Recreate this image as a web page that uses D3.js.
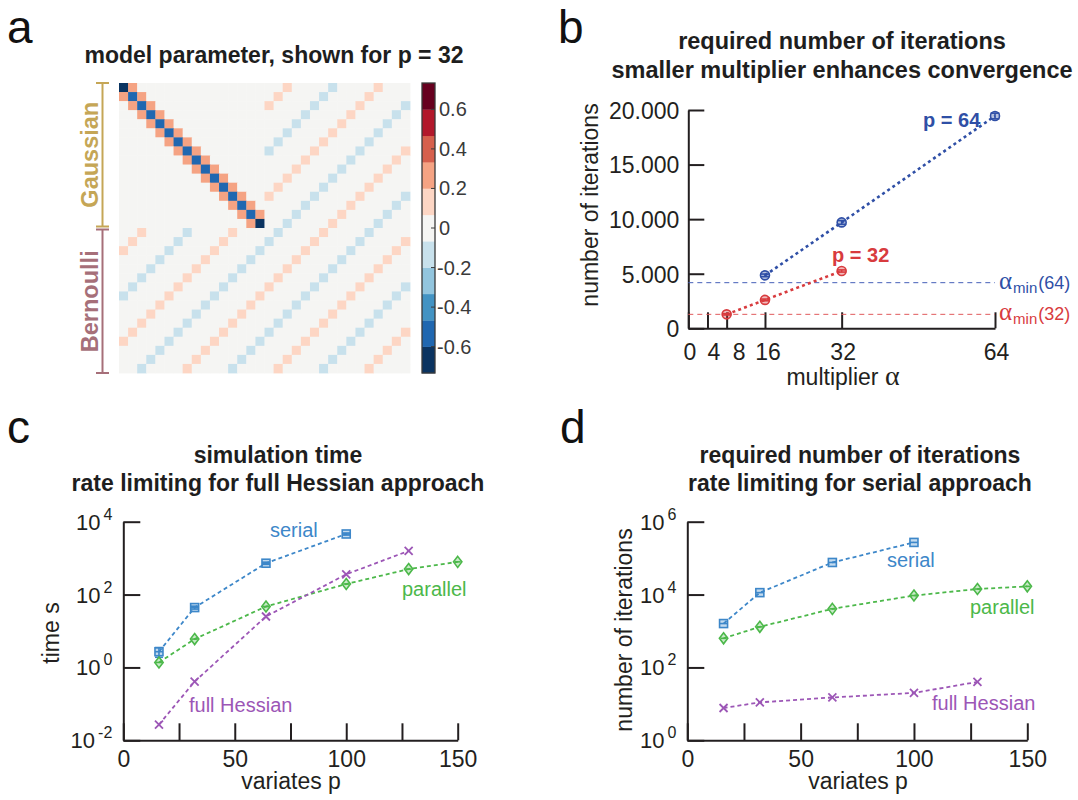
<!DOCTYPE html>
<html><head><meta charset="utf-8">
<script src="https://cdn.jsdelivr.net/npm/d3@7"></script>
<style>
body{margin:0;background:#fff;}
svg{display:block;font-family:"Liberation Sans",Arial,sans-serif;}
</style></head><body>
<svg id="chart" width="1078" height="800"></svg>
<script>
// ================= DATA =================
// panel a: model parameter matrix (p = 32), one string per row, one code per cell
const heatRows = [
  "No..............".concat("..p....b....p..."),
  "oBo.............".concat(".p....b....p...."),
  ".oBo............".concat("p....b....p....b"),
  "..oBo...........".concat("....b....p....b."),
  "...oBo..........".concat("...b....p....b.."),
  "....oBo.........".concat("..b....p....b..."),
  ".....oBo........".concat(".b....p....b...."),
  "......oBo.......".concat("b....p....b....p"),
  ".......oBo......".concat("....p....b....p."),
  "........oBo.....".concat("...p....b....p.."),
  ".........oBo....".concat("..p....b....p..."),
  "..........oBo...".concat(".p....b....p...."),
  "...........oBo..".concat("p....b....p....b"),
  "............oBo.".concat("....b....p....b."),
  ".............oBo".concat("...b....p....b.."),
  "..............oN".concat("..b....p....b..."),
  "..p....b....p...".concat(".b....p....b...."),
  ".p....b....p....".concat("b....p....b....p"),
  "p....b....p....b".concat("....p....b....p."),
  "....b....p....b.".concat("...p....b....p.."),
  "...b....p....b..".concat("..p....b....p..."),
  "..b....p....b...".concat(".p....b....p...."),
  ".b....p....b....".concat("p....b....p....b"),
  "b....p....b....p".concat("....b....p....b."),
  "....p....b....p.".concat("...b....p....b.."),
  "...p....b....p..".concat("..b....p....b..."),
  "..p....b....p...".concat(".b....p....b...."),
  ".p....b....p....".concat("b....p....b....p"),
  "p....b....p....b".concat("....p....b....p."),
  "....b....p....b.".concat("...p....b....p.."),
  "...b....p....b..".concat("..p....b....p..."),
  "..b....p....b...".concat(".p....b....p....")
];
const heatCodes = {"N": -0.7, "B": -0.55, "o": 0.3, "p": 0.1, "b": -0.1, ".": 0};
const colorbarTicks = [-0.6, -0.4, -0.2, 0, 0.2, 0.4, 0.6];
const colorbarLimit = 0.7333;
const blockNames = ["Gaussian", "Bernoulli"];
const blockSizes = [16, 16];

// panel b: iterations vs multiplier alpha
const alphaTicks = [0, 4, 8, 16, 32, 64];
const iterTicksB = [0, 5000, 10000, 15000, 20000];
const p64Alpha = [16, 32, 64];
const p64Iter  = [4850, 9700, 19450];
const p64Err   = [120, 170, 260];
const p32Alpha = [8, 16, 32];
const p32Iter  = [1280, 2600, 5250];
const p32Err   = [60, 80, 100];
const alphaMin64Iter = 4180;
const alphaMin32Iter = 1280;

// panels c, d: variates p
const pTicks = [0, 25, 50, 75, 100, 125, 150];
const pSerial   = [16, 32, 64, 100];
const pParallel = [16, 32, 64, 100, 128, 150];
const pHessian  = [16, 32, 64, 100, 128];
const timeSerial    = [2.7, 44, 725, 4600];
const timeSerialErr = [0.8, 4, 50, 300];
const timeParallel  = [1.37, 6.0, 47, 195, 500, 790];
const timeHessian   = [0.027, 0.41, 25, 360, 1580];
const iterSerial    = [1600, 11300, 76000, 270000];
const iterParallel  = [630, 1300, 4050, 9400, 14200, 16800];
const iterHessian   = [7.7, 11, 15, 20, 40];
const timeExpTicks = [-2, 0, 2, 4];
const iterExpTicks = [0, 2, 4, 6];

// ================= STYLE =================
const ink = "#231f20";
const rdbu11 = ["#0b3461","#2067b0","#4393c3","#92c5de","#c8e1ec","#f5f5f3",
                "#fdd6c4","#f5a383","#d6604d","#b2182b","#67001f"];
const cSerial = "#3d87c9", cParallel = "#4cb84a", cHessian = "#9c56b6";
const cP64 = "#2f4fa6", cP32 = "#d83b3e";
const cGauss = "#c5a656", cBern = "#a66f79";

const svg = d3.select("#chart");

// panel letters
[["a", 7, 43], ["b", 558, 43], ["c", 7, 443], ["d", 560, 443]].forEach(([t, x, y]) => {
  svg.append("text").attr("x", x).attr("y", y).text(t)
    .attr("font-family", '"Liberation Sans", Arial, sans-serif')
    .attr("font-size", 46).attr("fill", "#111");
});

function title(lines, cx, y0, dy, fs) {
  lines.forEach((t, i) => svg.append("text").attr("x", cx).attr("y", y0 + i * dy)
    .attr("text-anchor", "middle").attr("font-weight", "bold").attr("font-size", fs || 23)
    .attr("fill", "#1e1e1e").text(t));
}

// ================= PANEL A =================
title(["model parameter, shown for p = 32"], 274, 63, 0);
const nCell = heatRows.length;
const idx = d3.range(nCell);
const hx = d3.scaleBand().domain(idx).range([119, 410]);
const hy = d3.scaleBand().domain(idx).range([83, 373]);
const hColor = d3.scaleQuantize().domain([-colorbarLimit, colorbarLimit]).range(rdbu11);
const cells = [];
heatRows.forEach((row, r) => row.split("").forEach((ch, c) => cells.push({r, c, v: heatCodes[ch]})));
const gA = svg.append("g");
gA.selectAll("rect").data(cells).join("rect")
  .attr("x", d => hx(d.c)).attr("y", d => hy(d.r))
  .attr("width", hx.bandwidth() + 0.4).attr("height", hy.bandwidth() + 0.4)
  .attr("fill", d => hColor(d.v));

// colorbar
const cbY = d3.scaleLinear().domain([-colorbarLimit, colorbarLimit]).range([373, 83]);
const bandW = 2 * colorbarLimit / rdbu11.length;
const gCb = svg.append("g");
gCb.selectAll("rect.band").data(rdbu11).join("rect").attr("class", "band")
  .attr("x", 422).attr("width", 13)
  .attr("y", (d, i) => cbY(-colorbarLimit + (i + 1) * bandW))
  .attr("height", (d, i) => cbY(-colorbarLimit + i * bandW) - cbY(-colorbarLimit + (i + 1) * bandW) + 0.3)
  .attr("fill", d => d);
gCb.append("rect").attr("x", 422).attr("y", 83).attr("width", 13).attr("height", 290)
  .attr("fill", "none").attr("stroke", "#3a3a3a").attr("stroke-width", 1.3);
gCb.selectAll("line.tk").data(colorbarTicks).join("line").attr("class", "tk")
  .attr("x1", 431).attr("x2", 435).attr("y1", d => cbY(d)).attr("y2", d => cbY(d))
  .attr("stroke", "#3a3a3a").attr("stroke-width", 1);
gCb.selectAll("text").data(colorbarTicks).join("text")
  .attr("x", d => d < 0 ? 437 : 439).attr("y", d => cbY(d) + 7)
  .attr("font-size", 20).attr("fill", "#3a3a3a")
  .text(d => d === 0 ? "0" : d3.format(".1f")(d).replace("−", "-"));

// block brackets
let acc = 0;
blockNames.forEach((name, i) => {
  const col = i === 0 ? cGauss : cBern;
  const y0 = hy(acc), y1 = hy(acc + blockSizes[i] - 1) + hy.bandwidth();
  acc += blockSizes[i];
  const top = y0 + (i === 0 ? 0 : 1.5), bot = y1 - (i === 0 ? 1.5 : 0);
  const g = svg.append("g").attr("stroke", col).attr("stroke-width", 2);
  g.append("line").attr("x1", 102.5).attr("x2", 102.5).attr("y1", top).attr("y2", bot);
  g.append("line").attr("x1", 96).attr("x2", 109).attr("y1", top).attr("y2", top);
  g.append("line").attr("x1", 96).attr("x2", 109).attr("y1", bot).attr("y2", bot);
  svg.append("text").attr("transform", `translate(97.5,${(top + bot) / 2}) rotate(-90)`)
    .attr("text-anchor", "middle").attr("font-weight", "bold").attr("font-size", 23.5)
    .attr("fill", col).text(name);
});

// ================= PANEL B =================
title(["required number of iterations", "smaller multiplier enhances convergence"], 842, 49, 28.5, 23.5);
const bx = d3.scaleLinear().domain([0, 64]).range([688.3, 995]);
const by = d3.scaleLinear().domain([0, 20000]).range([328.3, 110]);

function styleAxis(g) {
  g.attr("font-family", null).attr("font-size", null);
  g.selectAll("path, line").attr("stroke", ink).attr("stroke-width", 2);
  g.selectAll("text").attr("fill", ink).attr("font-size", 23);
}
const gBy = svg.append("g").attr("transform", `translate(${bx(0)},0)`)
  .call(d3.axisLeft(by).tickValues(iterTicksB).tickSize(-16).tickSizeOuter(0).tickPadding(9)
    .tickFormat(d => d3.format(",")(d).replace(/,/g, ".")));
styleAxis(gBy);
gBy.selectAll("text").attr("dy", "0.36em");
const gBx = svg.append("g").attr("transform", `translate(0,${by(0)})`)
  .call(d3.axisBottom(bx).tickValues(alphaTicks).tickSize(-16).tickSizeOuter(0).tickPadding(15));
styleAxis(gBx);
gBx.selectAll(".tick text").attr("dx", d => d === 4 ? 6 : d === 8 ? 12 : d === 16 ? 2.5 : 1);

svg.append("text").attr("x", 843).attr("y", 385).attr("text-anchor", "middle").attr("font-size", 23).attr("fill", ink)
  .call(t => { t.append("tspan").text("multiplier "); t.append("tspan").attr("font-family", '"Liberation Serif", serif').attr("font-size", 28).text("α"); });
svg.append("text").attr("transform", "translate(598,205) rotate(-90)").attr("text-anchor", "middle")
  .attr("font-size", 23).attr("fill", ink).text("number of iterations");

// alpha_min reference lines
[[alphaMin64Iter, "#4560b8", "(64)", cP64], [alphaMin32Iter, "#e05a5c", "(32)", cP32]].forEach(([v, lc, lab, tc]) => {
  svg.append("line").attr("x1", bx(0)).attr("x2", bx(64)).attr("y1", by(v)).attr("y2", by(v))
    .attr("stroke", lc).attr("stroke-width", 1).attr("stroke-dasharray", "5,4");
  const t = svg.append("text").attr("x", 999).attr("y", by(v) + 6).attr("fill", tc);
  t.append("tspan").attr("font-family", '"Liberation Serif", serif').attr("font-size", 25).text("α");
  t.append("tspan").attr("font-size", 15).attr("dy", 4).attr("dx", 1).text("min");
  t.append("tspan").attr("font-size", 18).attr("dy", -4).attr("dx", 1).text(lab);
});

function seriesB(alphas, iters, errs, col, label, lx, ly) {
  const pts = alphas.map((a, i) => ({a, v: iters[i], e: errs[i]}));
  svg.append("path").datum(pts).attr("fill", "none").attr("stroke", col).attr("stroke-width", 2.6)
    .attr("stroke-dasharray", "3,3.2").attr("d", d3.line().x(d => bx(d.a)).y(d => by(d.v)));
  const g = svg.append("g").attr("stroke", col).attr("stroke-width", 1.6);
  pts.forEach(d => {
    const x = bx(d.a), y = by(d.v), yt = by(d.v + d.e), yb = by(d.v - d.e);
    g.append("circle").attr("cx", x).attr("cy", y).attr("r", 4.5).attr("fill", col).attr("fill-opacity", 0.35);
    g.append("line").attr("x1", x).attr("x2", x).attr("y1", yt).attr("y2", yb);
    g.append("line").attr("x1", x - 4.5).attr("x2", x + 4.5).attr("y1", yt).attr("y2", yt);
    g.append("line").attr("x1", x - 4.5).attr("x2", x + 4.5).attr("y1", yb).attr("y2", yb);
  });
  svg.append("text").attr("x", lx).attr("y", ly).attr("font-weight", "bold").attr("font-size", 20)
    .attr("fill", col).text(label);
}
seriesB(p32Alpha, p32Iter, p32Err, cP32, "p = 32", 832, 262);
seriesB(p64Alpha, p64Iter, p64Err, cP64, "p = 64", 923, 127);

// ================= PANELS C, D =================
function logPanel(cfg) {
  const x = d3.scaleLinear().domain([0, 150]).range([cfg.x0, cfg.x1]);
  const y = d3.scaleLog().domain([Math.pow(10, cfg.exps[0]), Math.pow(10, cfg.exps[cfg.exps.length - 1])]).range([740.3, 521.7]);
  const gy = svg.append("g").attr("transform", `translate(${cfg.x0},0)`)
    .call(d3.axisLeft(y).tickValues(cfg.exps.map(e => Math.pow(10, e))).tickSize(-17).tickSizeOuter(0).tickFormat(""));
  styleAxis(gy);
  cfg.exps.forEach(e => {
    const t = svg.append("text").attr("x", cfg.x0 - 11).attr("y", y(Math.pow(10, e)) + 8)
      .attr("text-anchor", "end").attr("fill", ink).attr("font-size", 22);
    t.append("tspan").text("10");
    t.append("tspan").attr("dx", 3).attr("dy", -10).attr("font-size", 16).text(e < 0 ? "-" + (-e) : e);
  });
  const gx = svg.append("g").attr("transform", "translate(0,740.3)")
    .call(d3.axisBottom(x).tickValues(pTicks).tickSize(-17).tickSizeOuter(0).tickPadding(10)
      .tickFormat(d => d % 50 === 0 ? d : ""));
  styleAxis(gx);
  svg.append("text").attr("x", cfg.xlabX).attr("y", 789).attr("text-anchor", "middle")
    .attr("font-size", 23).attr("fill", ink).text("variates p");
  svg.append("text").attr("transform", `translate(${cfg.ylabX},${cfg.ylabY}) rotate(-90)`)
    .attr("text-anchor", "middle").attr("font-size", 23).attr("fill", ink).text(cfg.ylab);

  cfg.series.forEach(s => {
    const pts = s.p.map((p, i) => ({p, v: s.v[i], e: s.err ? s.err[i] : 0}));
    svg.append("path").datum(pts).attr("fill", "none").attr("stroke", s.col).attr("stroke-width", 1.8)
      .attr("stroke-dasharray", "4,3").attr("d", d3.line().x(d => x(d.p)).y(d => y(d.v)));
    const g = svg.append("g").attr("stroke", s.col).attr("stroke-width", 1.6);
    pts.forEach(d => {
      const cx = x(d.p), cy = y(d.v);
      if (d.e > 0) {
        const yt = y(d.v + d.e), yb = y(Math.max(d.v - d.e, d.v * 0.3));
        g.append("line").attr("x1", cx).attr("x2", cx).attr("y1", yt).attr("y2", yb);
        g.append("line").attr("x1", cx - 4).attr("x2", cx + 4).attr("y1", yt).attr("y2", yt);
        g.append("line").attr("x1", cx - 4).attr("x2", cx + 4).attr("y1", yb).attr("y2", yb);
      }
      if (s.shape === "square") {
        g.append("rect").attr("x", cx - 4).attr("y", cy - 4).attr("width", 8).attr("height", 8)
          .attr("fill", s.col).attr("fill-opacity", 0.3);
        g.append("line").attr("x1", cx - 4).attr("x2", cx + 4).attr("y1", cy).attr("y2", cy);
      } else if (s.shape === "diamond") {
        g.append("path").attr("d", `M${cx},${cy - 5.5}L${cx + 4.2},${cy}L${cx},${cy + 5.5}L${cx - 4.2},${cy}Z`)
          .attr("fill", s.col).attr("fill-opacity", 0.3);
        g.append("line").attr("x1", cx - 3).attr("x2", cx + 3).attr("y1", cy).attr("y2", cy);
      } else {
        g.append("path").attr("d", `M${cx - 4},${cy - 4}L${cx + 4},${cy + 4}M${cx - 4},${cy + 4}L${cx + 4},${cy - 4}`)
          .attr("stroke-width", 1.8);
      }
    });
    svg.append("text").attr("x", s.lx).attr("y", s.ly).attr("font-size", 20).attr("fill", s.col).text(s.name);
  });
}

title(["simulation time", "rate limiting for full Hessian approach"], 278, 463, 28);
logPanel({
  x0: 123.3, x1: 457.7, exps: timeExpTicks, xlabX: 291, ylab: "time s", ylabX: 59, ylabY: 633,
  series: [
    {name: "serial", p: pSerial, v: timeSerial, err: timeSerialErr, col: cSerial, shape: "square", lx: 270, ly: 537},
    {name: "parallel", p: pParallel, v: timeParallel, col: cParallel, shape: "diamond", lx: 402, ly: 596},
    {name: "full Hessian", p: pHessian, v: timeHessian, col: cHessian, shape: "x", lx: 189, ly: 712}
  ]
});

title(["required number of iterations", "rate limiting for serial approach"], 860, 463, 28);
logPanel({
  x0: 687.3, x1: 1027.3, exps: iterExpTicks, xlabX: 858, ylab: "number of iterations", ylabX: 632, ylabY: 630,
  series: [
    {name: "serial", p: pSerial, v: iterSerial, col: cSerial, shape: "square", lx: 887, ly: 567},
    {name: "parallel", p: pParallel, v: iterParallel, col: cParallel, shape: "diamond", lx: 970, ly: 614},
    {name: "full Hessian", p: pHessian, v: iterHessian, col: cHessian, shape: "x", lx: 932, ly: 710}
  ]
});
</script>
</body></html>
